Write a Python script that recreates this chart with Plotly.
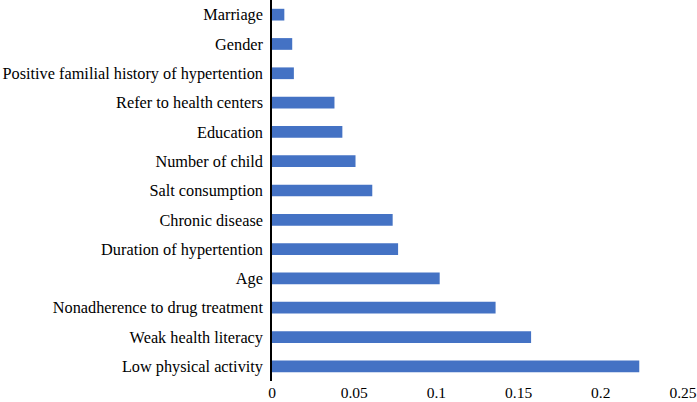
import plotly.graph_objects as go

categories = [
    "Low physical activity",
    "Weak health literacy",
    "Nonadherence to drug treatment",
    "Age",
    "Duration of hypertention",
    "Chronic disease",
    "Salt consumption",
    "Number of child",
    "Education",
    "Refer to health centers",
    "Positive familial history of hypertention",
    "Gender",
    "Marriage",
]
values = [0.2234, 0.1576, 0.136, 0.102, 0.0767, 0.0734, 0.061, 0.0508, 0.0428, 0.038, 0.0133, 0.0123, 0.0075]
x_ticks = [0, 0.05, 0.1, 0.15, 0.2, 0.25]
x_tick_labels = ["0", "0.05", "0.1", "0.15", "0.2", "0.25"]

fig = go.Figure(go.Bar(
    x=values, y=categories, orientation="h",
    marker=dict(color="#4472C4", line=dict(width=0)),
    width=0.4,
))
fig.update_layout(
    width=697, height=402,
    margin=dict(l=272, r=14, t=0, b=21, autoexpand=False),
    paper_bgcolor="white", plot_bgcolor="white",
    font=dict(family="Liberation Serif", size=16.3, color="black"),
    showlegend=False,
)
fig.update_xaxes(range=[0, 0.25], tickvals=x_ticks, ticktext=x_tick_labels,
                 showgrid=False, zeroline=False, showline=False, ticks="",
                 ticklabeloverflow="allow", tickfont=dict(size=15.5))
fig.update_yaxes(showgrid=False, showline=True, linecolor="black", linewidth=1.5,
                 ticks="", range=[-0.5, 12.5], ticklabelstandoff=4)
fig.write_html("out.html", config={"displayModeBar": False},
               post_script="document.body.style.margin='0';document.body.style.overflow='hidden';")
